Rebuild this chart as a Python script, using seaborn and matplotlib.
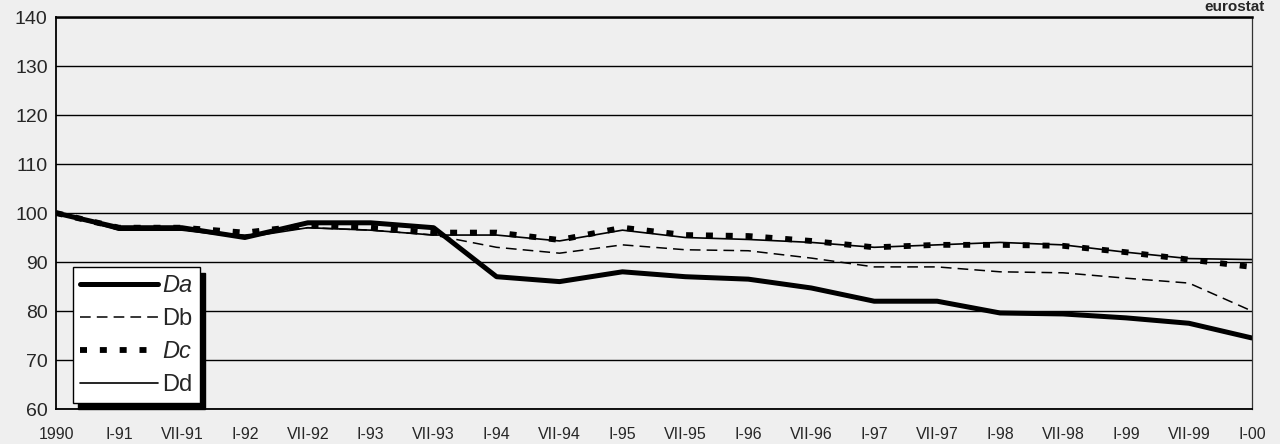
import pandas as pd
import matplotlib
matplotlib.use("Agg")
import matplotlib.pyplot as plt
import seaborn as sns

# Periods (semi-annual) and index values, 1990 = 100
periods = ["1990", "I-91", "VII-91", "I-92", "VII-92", "I-93", "VII-93",
           "I-94", "VII-94", "I-95", "VII-95", "I-96", "VII-96", "I-97",
           "VII-97", "I-98", "VII-98", "I-99", "VII-99", "I-00"]
da = [100, 97, 97, 95, 98, 98, 97, 87, 86, 88, 87, 86.5, 84.7, 82, 82, 79.6, 79.4, 78.6, 77.5, 74.5]
db = [100, 97, 96.5, 95.5, 97, 96.5, 95.5, 93, 91.8, 93.5, 92.5, 92.3, 90.8, 89, 89, 88, 87.8, 86.7, 85.7, 80]
dc = [100, 97, 97, 96, 97.5, 97, 96, 96, 94.5, 97, 95.5, 95.3, 94.3, 93, 93.5, 93.5, 93.3, 92, 90.5, 89]
dd = [100, 96.5, 96.5, 95, 97, 96.5, 95.5, 95.5, 94.3, 96.5, 95, 94.6, 94, 93, 93.5, 94, 93.5, 92, 90.7, 90.5]

n = len(periods)
df = pd.DataFrame({"pos": list(range(n)) * 4,
                   "value": da + db + dc + dd,
                   "serie": ["Da"] * n + ["Db"] * n + ["Dc"] * n + ["Dd"] * n})

bg = "#efefef"
sns.set_style("white")
plt.rcParams["font.family"] = ["Liberation Sans", "DejaVu Sans"]

fig, ax = plt.subplots(figsize=(12.8, 4.44), dpi=100)
fig.patch.set_facecolor(bg)
ax.set_facecolor(bg)
fig.subplots_adjust(left=0.04375, right=0.978, top=0.9617, bottom=0.0788)

estilos = {
    "Da": dict(linewidth=3.6, linestyle="-"),
    "Db": dict(linewidth=1.1, linestyle=(0, (7, 4))),
    "Dc": dict(linewidth=4.2, linestyle=(0, (1.2, 2.2))),
    "Dd": dict(linewidth=1.2, linestyle="-"),
}
for s in ["Dd", "Db", "Da", "Dc"]:
    sns.lineplot(data=df[df["serie"] == s], x="pos", y="value", color="black",
                 label=s, ax=ax, **estilos[s])

ax.set_xlim(0, n - 1)
ax.set_ylim(60, 140)
ax.set_yticks(range(60, 141, 10))
ax.set_xticks(range(n))
ax.set_xticklabels(periods, fontsize=11.5)
ax.tick_params(axis="y", labelsize=14, length=4, color="black", pad=2)
ax.tick_params(axis="x", length=3, color="black", pad=10)
ax.set_xlabel("")
ax.set_ylabel("")
ax.grid(axis="y", color="black", linewidth=1.0)
ax.set_axisbelow(True)

for side in ["left", "bottom", "top"]:
    ax.spines[side].set_color("black")
ax.spines["top"].set_linewidth(1.8)
ax.spines["left"].set_linewidth(1.3)
ax.spines["bottom"].set_linewidth(1.3)
ax.spines["right"].set_color("#333333")
ax.spines["right"].set_linewidth(0.9)
ax.spines["right"].set_linestyle((0, (6, 1)))

handles, labels = ax.get_legend_handles_labels()
orden = [labels.index(k) for k in ["Da", "Db", "Dc", "Dd"]]
leg = ax.legend([handles[i] for i in orden], [labels[i] for i in orden],
                loc="lower left", bbox_to_anchor=(0.014, 0.015),
                fontsize=17, handlelength=3.3, handletextpad=0.2,
                labelspacing=0.45, borderpad=0.3, borderaxespad=0,
                frameon=True, fancybox=False, edgecolor="black",
                facecolor="white", framealpha=1,
                shadow={"ox": 4, "oy": -4, "color": "black", "alpha": 1})
leg.get_frame().set_linewidth(1.0)
for t in leg.get_texts():
    if t.get_text() in ("Da", "Dc"):
        t.set_style("italic")

fig.text(0.988, 0.999, "eurostat", ha="right", va="top",
         fontsize=11, fontweight="bold")

fig.savefig("out.png", dpi=100, facecolor=bg)
plt.close(fig)
